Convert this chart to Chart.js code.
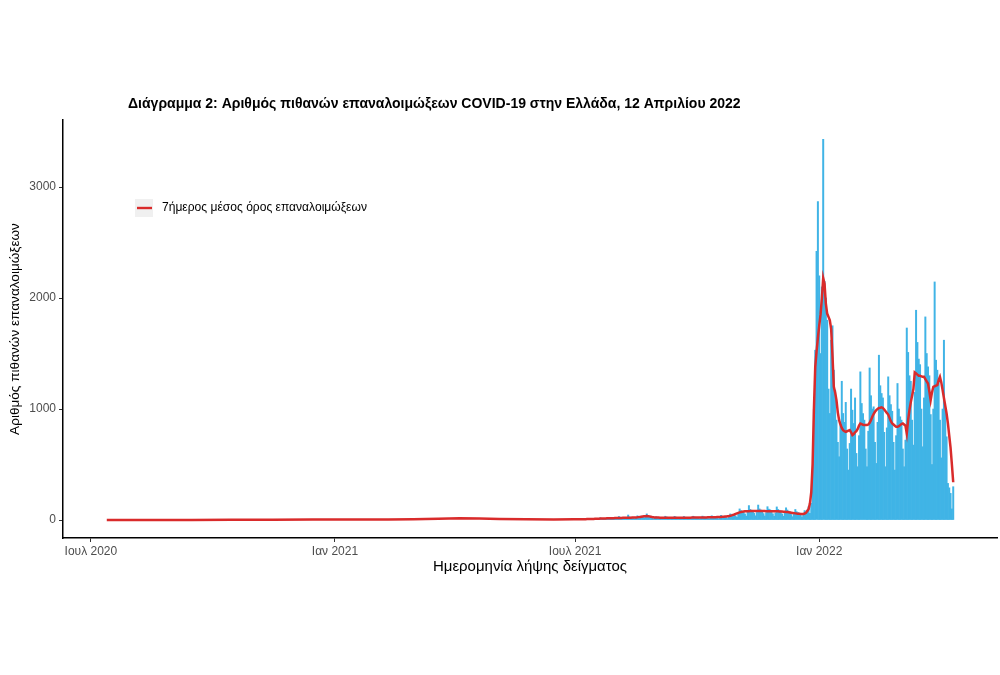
<!DOCTYPE html>
<html><head><meta charset="utf-8">
<script src="https://cdn.jsdelivr.net/npm/chart.js@4.4.1/dist/chart.umd.min.js"></script>
<style>html,body{margin:0;padding:0;background:#fff}#wrap{width:1000px;height:675px;position:relative}</style>
</head><body><div id="wrap"><canvas id="c" width="1000" height="675"></canvas></div>
<script>
const chartTitle = 'Διάγραμμα 2: Αριθμός πιθανών επαναλοιμώξεων COVID-19 στην Ελλάδα, 12 Απριλίου 2022';
const xAxisTitle = 'Ημερομηνία λήψης δείγματος';
const yAxisTitle = 'Αριθμός πιθανών επαναλοιμώξεων';
const legendLabel = '7ήμερος μέσος όρος επαναλοιμώξεων';
const xTickDates = ['2020-07-01','2021-01-01','2021-07-01','2022-01-01'];
const xTickLabels = ['Ιουλ 2020','Ιαν 2021','Ιουλ 2021','Ιαν 2022'];
const yTickValues = [0,1000,2000,3000];

// daily reinfections from 2021-07-01 (earlier daily counts are too small to be visible)
const dailyStart = '2021-07-01';
const dailyCases = [
  6,6,4,3,6,12,9,9,9,6,4,8,15,12,12,11,8,5,10,20,15,15,14,10,6,12,24,18,18,17,12,
  10,18,32,25,22,21,15,9,20,45,28,24,23,16,10,20,38,30,32,35,28,20,40,55,42,36,32,22,12,20,30,
  26,24,23,16,10,19,34,27,24,23,16,10,18,33,26,23,22,15,9,18,32,25,23,22,15,9,19,34,27,24,
  22,16,10,20,35,28,25,24,17,11,21,38,30,27,26,18,12,23,42,33,30,29,21,14,30,55,48,45,50,38,25,
  55,100,85,80,78,55,35,70,130,95,88,85,60,38,68,135,100,90,86,58,36,66,120,98,92,84,56,34,64,118,
  95,88,82,55,34,62,110,90,80,74,50,30,55,95,75,68,62,44,28,50,85,70,90,120,60,150,360,1000,1530,2420,2870,
  2200,1500,2100,3430,2150,2000,1800,1180,960,1620,1750,1350,1170,900,700,570,850,1250,960,880,1060,640,450,690,1180,990,870,1100,600,480,760,
  1335,1050,960,900,640,480,800,1370,1120,1000,1020,700,510,880,1485,1210,1140,1100,790,480,830,1290,1120,1040,980,700,450,760,
  1230,1000,930,900,640,480,720,1730,1510,1300,1250,900,675,1150,1890,1600,1450,1400,1000,660,1100,1830,1500,1380,1300,950,500,1000,2145,1440,1350,
  1250,900,560,1000,1620,1000,750,330,290,240,100,300
];
// 7-day average, daily from 2021-07-01
const dailyAvg = [
  6,6,6,7,7,7,8,8,8,9,9,9,10,10,10,11,11,12,12,13,13,14,14,14,15,15,16,16,17,17,18,
  18,18,19,19,19,20,20,20,21,21,21,21,22,22,22,23,24,26,28,30,32,34,35,36,35,33,30,27,25,23,22,
  22,22,21,21,21,21,21,21,21,21,21,21,20,20,20,20,20,20,20,20,21,21,21,21,21,21,22,22,22,22,
  22,22,22,22,23,23,23,23,24,24,24,25,25,26,26,27,27,28,28,29,30,31,32,34,36,39,42,46,50,55,60,
  65,69,72,75,77,78,79,80,80,81,81,81,82,82,82,82,82,81,81,81,81,80,80,80,80,80,79,79,79,78,
  78,77,77,76,75,74,73,72,70,68,66,64,62,60,58,57,56,55,55,55,58,65,80,100,150,250,500,1000,1380,1520,1640,
  1750,1850,2000,2180,2130,1950,1860,1830,1800,1720,1480,1200,1150,1080,970,900,860,830,810,800,795,800,805,810,790,765,775,790,800,820,850,
  870,865,858,855,855,855,860,875,900,930,955,975,990,1000,1010,1012,1015,1010,995,980,965,950,920,890,870,860,850,840,
  840,845,855,865,870,860,850,780,900,990,1060,1120,1180,1330,1320,1310,1300,1300,1295,1290,1290,1270,1250,1230,1160,1080,1150,1200,1205,1210,1215,
  1260,1290,1240,1170,1100,1030,960,870,760,650,500,340
];
// 7-day average before July 2021 (sampled)
const earlyAvgDates = ['2020-07-13','2020-08-15','2020-09-15','2020-10-15','2020-11-15','2020-12-15','2021-01-15','2021-02-10','2021-03-01','2021-03-20','2021-04-05','2021-04-20','2021-05-05','2021-05-25','2021-06-15','2021-06-30'];
const earlyAvgValues = [0,1,1,2,3,4,4,5,8,12,16,14,10,7,5,6];

const EPOCH = Date.UTC(2020,6,1);
function dayNum(s){ const p = s.split('-').map(Number); return Math.round((Date.UTC(p[0],p[1]-1,p[2]) - EPOCH)/86400000); }
const startDay = dayNum(dailyStart);
const barData = dailyCases.map((v,i)=>({x:startDay+i, y:v}));
const lineData = earlyAvgDates.map((d,i)=>({x:dayNum(d), y:earlyAvgValues[i]}))
  .concat(dailyAvg.map((v,i)=>({x:startDay+i, y:v})));
const tickDays = xTickDates.map(dayNum);

const FONT = '"Liberation Sans", Arial, Helvetica, sans-serif';
function fitFont(ctx, text, weight, target){
  ctx.font = weight + ' 20px ' + FONT;
  const w = ctx.measureText(text).width;
  return weight + ' ' + (20*target/w).toFixed(2) + 'px ' + FONT;
}

const textPlugin = {
  id:'texts',
  afterDraw(chart){
    const ctx = chart.ctx, a = chart.chartArea;
    ctx.save();
    ctx.fillStyle = '#000';
    ctx.textBaseline = 'middle';
    ctx.textAlign = 'left';
    ctx.font = fitFont(ctx, chartTitle, 'bold', 613);
    ctx.fillText(chartTitle, 128, 104);
    ctx.textAlign = 'center';
    ctx.font = fitFont(ctx, xAxisTitle, 'normal', 194);
    ctx.fillText(xAxisTitle, (a.left+a.right)/2, 567);
    ctx.save();
    ctx.translate(15, (a.top+a.bottom)/2);
    ctx.rotate(-Math.PI/2);
    ctx.font = fitFont(ctx, yAxisTitle, 'normal', 212);
    ctx.fillText(yAxisTitle, 0, 0);
    ctx.restore();
    // legend
    ctx.fillStyle = '#F0F0F0';
    ctx.fillRect(135, 199, 18, 18);
    ctx.strokeStyle = '#D92B2B';
    ctx.lineWidth = 2.4;
    ctx.beginPath(); ctx.moveTo(137, 208); ctx.lineTo(152, 208); ctx.stroke();
    ctx.fillStyle = '#000';
    ctx.textAlign = 'left';
    ctx.font = fitFont(ctx, legendLabel, 'normal', 205);
    ctx.fillText(legendLabel, 162, 208);
    ctx.restore();
  }
};

const tickFont = {family:'"Liberation Sans", Arial, sans-serif', size:12};
new Chart(document.getElementById('c').getContext('2d'), {
  type:'bar',
  data:{datasets:[
    {type:'line', label:legendLabel, data:lineData, borderColor:'#D92B2B', borderWidth:2.5, pointRadius:0, tension:0, fill:false, order:0},
    {type:'bar', label:'daily', data:barData, backgroundColor:'#40B4E6', borderWidth:0, barPercentage:1, categoryPercentage:1, order:1}
  ]},
  options:{
    responsive:false, animation:false, devicePixelRatio:1,
    layout:{padding:{top:120, right:3, left:0, bottom:0}},
    plugins:{legend:{display:false}, tooltip:{enabled:false}, title:{display:false}},
    scales:{
      x:{type:'linear', min:-21, max:683, offset:false,
        afterBuildTicks:s=>{ s.ticks = tickDays.map(v=>({value:v})); },
        afterFit:s=>{ s.height = 137; },
        ticks:{autoSkip:false, maxRotation:0, minRotation:0, padding:2, color:'#4D4D4D', font:tickFont,
          callback:(v,i)=>xTickLabels[i]},
        grid:{offset:false, drawOnChartArea:false, drawTicks:true, tickLength:4, color:'#333', lineWidth:1},
        border:{display:true, color:'#000', width:1.5}
      },
      y:{type:'linear', min:-162, max:3604,
        afterBuildTicks:s=>{ s.ticks = yTickValues.map(v=>({value:v})); },
        afterFit:s=>{ s.width = 63; },
        ticks:{padding:3, color:'#4D4D4D', font:tickFont, callback:v=>String(v)},
        grid:{offset:false, drawOnChartArea:false, drawTicks:true, tickLength:4, color:'#333', lineWidth:1},
        border:{display:true, color:'#000', width:1.5}
      }
    }
  },
  plugins:[textPlugin]
});
</script></body></html>
